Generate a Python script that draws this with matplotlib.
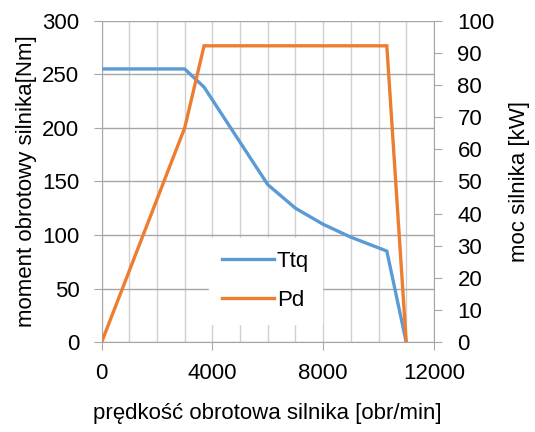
import numpy as np
import matplotlib
matplotlib.use("Agg")
import matplotlib.pyplot as plt
from matplotlib.ticker import MultipleLocator

plt.rcParams['font.family'] = ['Liberation Sans', 'DejaVu Sans']

# engine speed [rpm] vs torque [Nm] and power [kW]
rpm_ttq = [0, 3000, 3700, 6000, 7000, 8000, 9000, 10000, 10300, 11000]
ttq = [255, 255, 238, 147, 125, 110, 98, 88, 85, 0]

rpm_pd = [0, 3000, 3700, 10300, 11000]
pd_kw = [0, 66.7, 92.2, 92.2, 0]

blue = '#5B9BD5'
orange = '#ED7D31'
grid_c = '#D0D0D0'
axis_c = '#A6A6A6'

fig = plt.figure(figsize=(5.35, 4.32), dpi=100)
ax = fig.add_axes([0.190, 0.208, 0.621, 0.744])
ax2 = ax.twinx()

l1, = ax.plot(rpm_ttq, ttq, color=blue, lw=2.4, solid_joinstyle='miter', label='Ttq', zorder=3)
l2, = ax2.plot(rpm_pd, pd_kw, color=orange, lw=2.4, solid_joinstyle='miter', label='Pd', zorder=3)

ax.set_xlim(0, 12000)
ax.set_ylim(0, 300)
ax2.set_ylim(0, 100)
ax.xaxis.set_major_locator(MultipleLocator(4000))
ax.xaxis.set_minor_locator(MultipleLocator(1000))
ax.yaxis.set_major_locator(MultipleLocator(50))
ax2.yaxis.set_major_locator(MultipleLocator(10))

ax.grid(True, which='major', axis='y', color=axis_c, lw=1.0)
ax.grid(True, which='both', axis='x', color=grid_c, lw=1.0)
ax.set_axisbelow(True)

for a in (ax, ax2):
    a.spines['top'].set_visible(False)
    for s in ('left', 'right', 'bottom'):
        a.spines[s].set_color(axis_c)
ax.spines['right'].set_visible(False)
ax2.spines['left'].set_visible(False)
ax2.spines['bottom'].set_visible(False)

ax.tick_params(axis='y', length=6, color=axis_c, pad=10, labelsize=16)
ax.tick_params(axis='x', which='major', length=6, color=axis_c, pad=9, labelsize=16)
ax.tick_params(axis='x', which='minor', length=0)
ax2.tick_params(axis='y', length=6, color=axis_c, pad=11, labelsize=16)

ax.set_xlabel('prędkość obrotowa silnika [obr/min]', fontsize=16, labelpad=14)
ax.set_ylabel('moment obrotowy silnika[Nm]', fontsize=16, labelpad=4)
ax2.set_ylabel('moc silnika [kW]', fontsize=16, labelpad=10)

leg = ax2.legend([l1, l2], ['Ttq', 'Pd'], loc='lower left', bbox_to_anchor=(0.31, 0.042),
                 frameon=True, fancybox=False, edgecolor='white', framealpha=1,
                 fontsize=16, handlelength=2.3, handletextpad=0.15, labelspacing=0.8,
                 borderpad=0.6, borderaxespad=0.2)

fig.savefig('out.png', dpi=100)
